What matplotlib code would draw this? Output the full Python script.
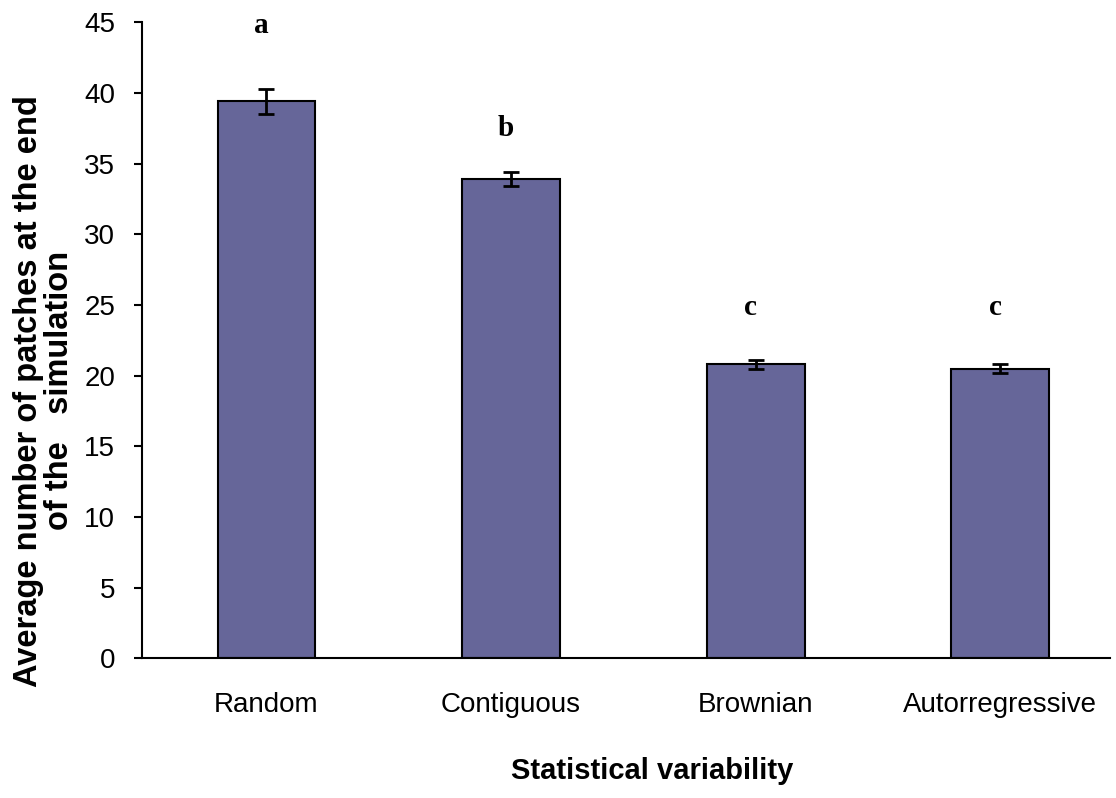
import matplotlib
matplotlib.use("Agg")
import matplotlib.pyplot as plt

categories = ["Random", "Contiguous", "Brownian", "Autorregressive"]
means = [39.4, 33.9, 20.8, 20.5]
errors = [0.85, 0.5, 0.3, 0.3]
letters = ["a", "b", "c", "c"]
letter_y = [44.8, 37.5, 24.8, 24.8]

plt.rcParams["font.family"] = ["Liberation Sans", "DejaVu Sans"]

fig = plt.figure(figsize=(11.16, 7.98), dpi=100)
ax = fig.add_axes([0.127, 0.175, 0.868, 0.797])

x = range(len(categories))
ax.bar(x, means, width=0.4, color="#666699", edgecolor="black", linewidth=1.5,
       yerr=errors, capsize=6, error_kw={"elinewidth": 2, "capthick": 2, "ecolor": "black"})

for i, (l, y) in enumerate(zip(letters, letter_y)):
    ax.text(i - 0.02, y, l, ha="center", va="center", fontsize=21, fontweight="bold",
            family="Liberation Serif")

ax.set_xlim(-0.51, 3.45)
ax.set_ylim(0, 45)
ax.set_yticks(range(0, 46, 5))
ax.set_xticks(list(x))
ax.set_xticklabels(categories, fontsize=20)
ax.tick_params(axis="y", labelsize=20, direction="out", length=6, width=1.5, pad=13)
ax.tick_params(axis="x", length=0, pad=24)
for s in ["top", "right"]:
    ax.spines[s].set_visible(False)
for s in ["left", "bottom"]:
    ax.spines[s].set_linewidth(1.5)

ax.set_ylabel("Average number of patches at the end\nof the   simulation",
              fontsize=23.5, fontweight="bold", linespacing=1.0)
ax.yaxis.set_label_coords(-0.069, 0.421)
ax.set_xlabel("Statistical variability", fontsize=21, fontweight="bold")
ax.xaxis.set_label_coords(0.527, -0.155)

fig.savefig("out.png", dpi=100)
